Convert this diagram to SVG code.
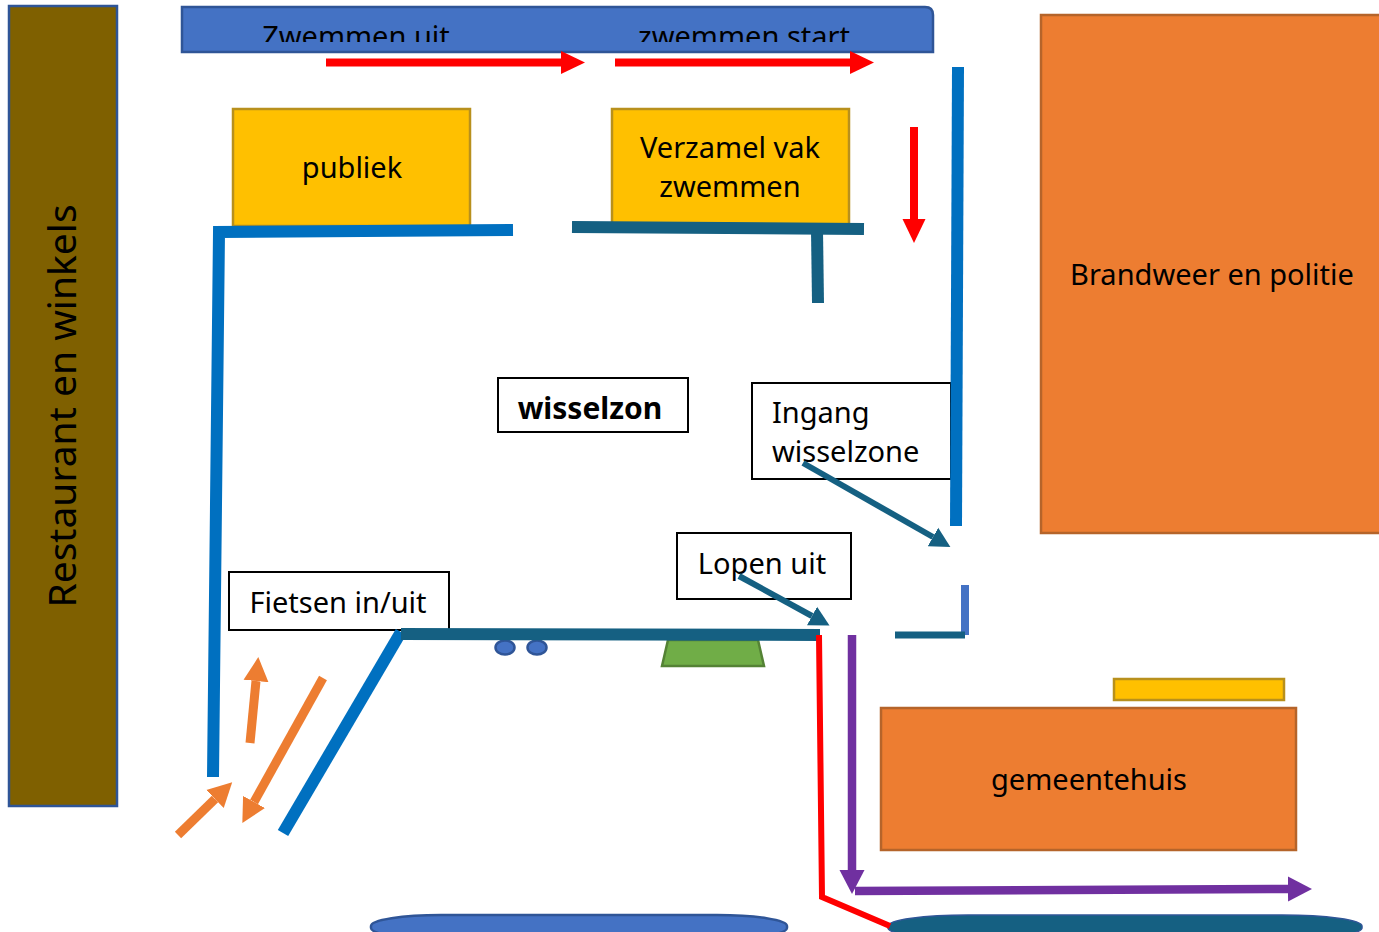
<svg xmlns="http://www.w3.org/2000/svg" width="1379" height="932" viewBox="0 0 1379 932">
<style>
text{font-family:"Noto Sans","Liberation Sans",sans-serif;font-size:29px;fill:#000;text-anchor:middle}
.box{fill:#fff;stroke:#000;stroke-width:2}
.yellow{fill:#FFC000;stroke:#B8901C;stroke-width:2.5}
.orange{fill:#ED7D31;stroke:#B5642A;stroke-width:2.5}
.blue{fill:#4472C4;stroke:#2F5597;stroke-width:2.5}
.c{fill:none;stroke-linejoin:miter}
.az{stroke:#0070C0;stroke-width:12}
.teal{stroke:#156082;stroke-width:12}
.thin{stroke:#156082;stroke-width:6}
.red{stroke:#F00;stroke-width:8}
.pur{stroke:#7030A0;stroke-width:8.5}
.or{stroke:#ED7D31;stroke-width:9}
</style>
<defs>
<clipPath id="bannerClip"><rect x="182" y="7" width="751" height="35"/></clipPath>
<marker id="ar" markerUnits="userSpaceOnUse" markerWidth="26" markerHeight="24" refX="0" refY="12" orient="auto"><path d="M0,0.500L24,12L0,23.500Z" fill="#F00"/></marker>
<marker id="ap" markerUnits="userSpaceOnUse" markerWidth="26" markerHeight="26" refX="0" refY="13" orient="auto"><path d="M0,0.500L24,13L0,25.500Z" fill="#7030A0"/></marker>
<marker id="ao" markerUnits="userSpaceOnUse" markerWidth="28" markerHeight="26" refX="0" refY="13" orient="auto"><path d="M0,0.500L24,13L0,25.500Z" fill="#ED7D31"/></marker>
<marker id="at" markerUnits="userSpaceOnUse" markerWidth="22" markerHeight="22" refX="0" refY="11" orient="auto"><path d="M0,0.500L20,11L0,21.500Z" fill="#156082"/></marker>
</defs>
<g id="restaurant"><rect x="9" y="6" width="108" height="800" fill="#7F6000" stroke="#2F5597" stroke-width="2.500"/><text transform="translate(76,406) rotate(-90)" style="font-size:39px">Restaurant en winkels</text></g>
<g id="zwemmen"><path class="blue" d="M182,7H925Q933,7 933,15V52H182Z"/><g clip-path="url(#bannerClip)"><text x="356" y="47">Zwemmen uit</text><text x="744" y="47">zwemmen start</text></g></g>
<g id="brandweer"><rect class="orange" x="1041" y="15" width="345" height="518"/><text x="1212" y="285">Brandweer en politie</text></g>
<g id="publiek"><rect class="yellow" x="233" y="109" width="237" height="117"/><text x="352" y="178">publiek</text></g>
<g id="verzamel"><rect class="yellow" x="612" y="109" width="237" height="117"/><text x="730" y="158">Verzamel vak</text><text x="730" y="197">zwemmen</text></g>
<g id="wisselzon"><rect class="box" x="498" y="378" width="190" height="54"/><text x="590" y="419" font-weight="700" style="font-size:30px">wisselzon</text></g>
<g id="ingang"><rect class="box" x="752" y="383" width="199" height="96"/><text x="772" y="423" style="text-anchor:start">Ingang</text><text x="772" y="462" style="text-anchor:start">wisselzone</text></g>
<g id="lopen"><rect class="box" x="677" y="533" width="174" height="66"/><text x="762" y="574">Lopen uit</text></g>
<g id="fietsen"><rect class="box" x="229" y="572" width="220" height="58"/><text x="338" y="613">Fietsen in/uit</text></g>
<g id="dot1"><ellipse class="blue" cx="505" cy="647.500" rx="9.500" ry="7"/></g>
<g id="dot2"><ellipse class="blue" cx="537" cy="647.500" rx="9.500" ry="7"/></g>
<g id="trapezium"><path d="M668,640H758L764,666H662Z" fill="#70AD47" stroke="#548235" stroke-width="2.500"/></g>
<g id="geel"><rect class="yellow" x="1114" y="679" width="170" height="21"/></g>
<g id="gemeentehuis"><rect class="orange" x="881" y="708" width="415" height="142"/><text x="1089" y="790">gemeentehuis</text></g>
<g id="ovaal1"><rect class="blue" x="371" y="915" width="416" height="24" rx="70" ry="11"/></g>
<g id="ovaal2"><rect x="888" y="915" width="474" height="24" rx="80" ry="11" fill="#156082" stroke="#2F5597" stroke-width="1.500"/></g>
<g id="connectors" class="c">
<path class="az" d="M213,777L219,232L513,230"/>
<path class="az" d="M958,67L956,526"/>
<path class="az" d="M283,833L401,632"/>
<path class="teal" d="M572,227L864,229"/>
<path class="teal" d="M817,230L818,303"/>
<path class="teal" d="M401,634L820,635"/>
<path class="c" stroke="#4472C4" stroke-width="8" d="M965,585V635"/>
<path class="c" stroke="#156082" stroke-width="7" d="M895,635H965"/>
<path class="red" marker-end="url(#ar)" d="M326,62.500H561"/>
<path class="red" marker-end="url(#ar)" d="M615,62.500H850"/>
<path class="red" marker-end="url(#ar)" d="M914,127V219"/>
<path class="c" stroke="#F00" stroke-width="6" d="M819,635L822,897L890,926"/>
<path class="pur" marker-end="url(#ap)" d="M852,635V870"/>
<path class="pur" marker-end="url(#ap)" d="M855,891L1288,889"/>
<path class="or" marker-end="url(#ao)" d="M178,835L215,799"/>
<path class="or" marker-end="url(#ao)" d="M250,743L256,681"/>
<path class="or" marker-end="url(#ao)" d="M323,678L254,802"/>
<path class="thin" marker-end="url(#at)" d="M803,463L933,537"/>
<path class="thin" marker-end="url(#at)" d="M739,576L812,616"/>
</g>
</svg>
